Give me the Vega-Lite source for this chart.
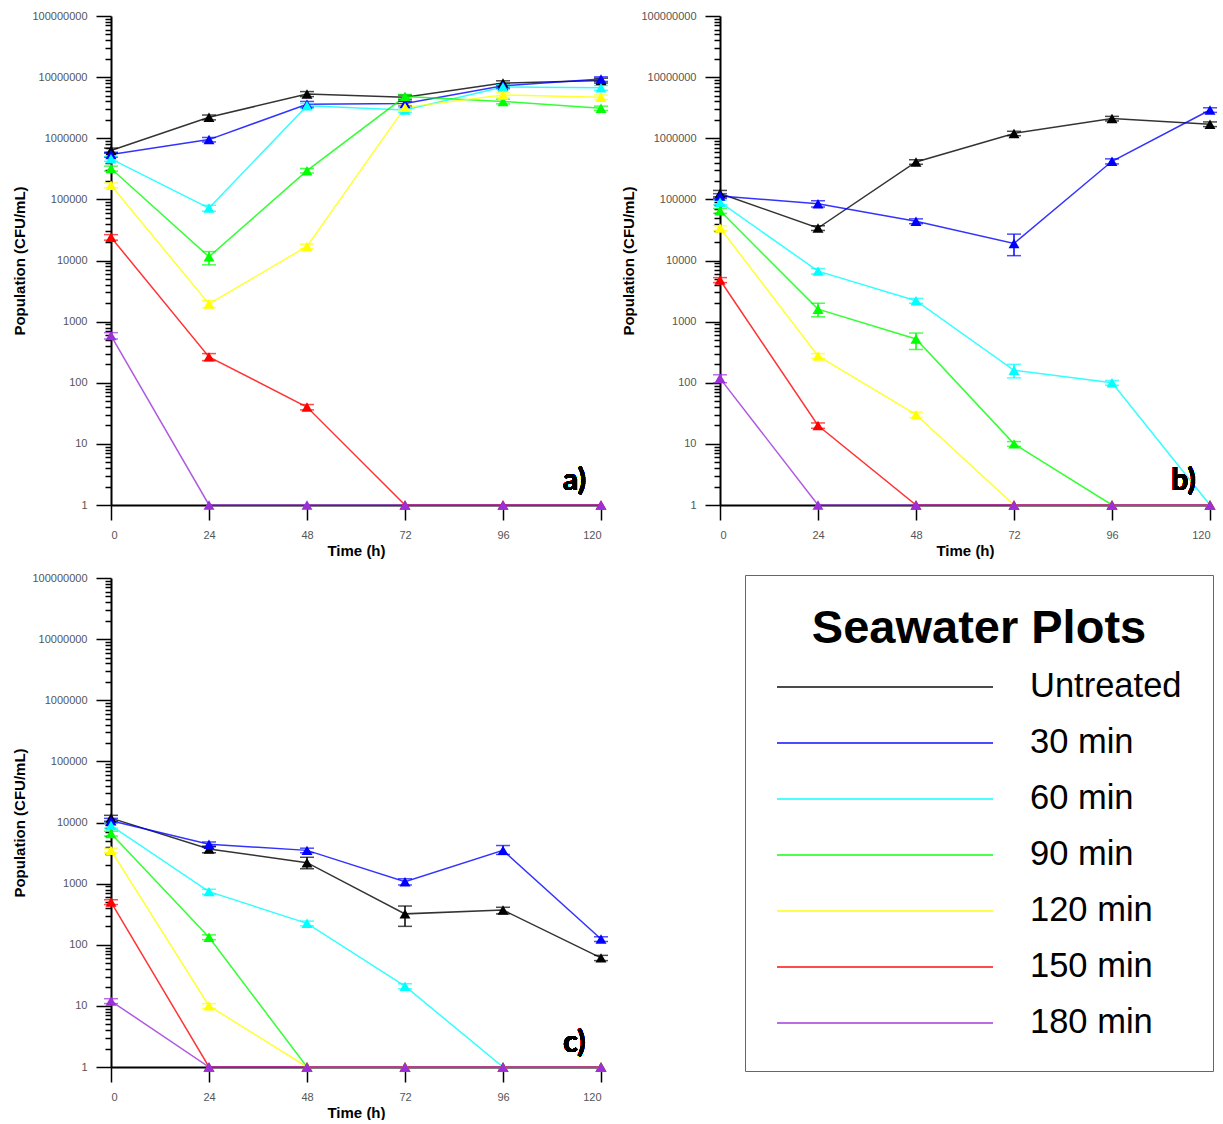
{
  "$schema": "https://vega.github.io/schema/vega-lite/v6.json",
  "padding": {"left": 12, "top": 10, "right": 0, "bottom": 0},
  "background": "white",
  "config": {
    "font": "Liberation Sans",
    "view": {"stroke": null},
    "axis": {"grid": false, "tickColor": "#000", "domainColor": "#000", "labelColor": "#555", "labelFontSize": 11, "labelFont": "Liberation Sans", "titleFont": "Liberation Sans", "titleFontSize": 15, "titleFontWeight": "bold", "titleColor": "#000", "tickWidth": 1.5, "domainWidth": 2},
    "axisX": {"tickSize": 15, "labelPadding": 9, "titlePadding": 3},
    "axisY": {"tickSize": 15, "labelPadding": 9, "titlePadding": 4}
  },
  "data": {"values": [
    {"p":"a","s":"Untreated","t":0,"y":630000,"lo":570000,"hi":690000},
    {"p":"a","s":"Untreated","t":24,"y":2200000,"lo":2000000,"hi":2400000},
    {"p":"a","s":"Untreated","t":48,"y":5300000,"lo":4800000,"hi":5800000},
    {"p":"a","s":"Untreated","t":72,"y":4700000,"lo":4300000,"hi":5100000},
    {"p":"a","s":"Untreated","t":96,"y":8000000,"lo":7300000,"hi":8700000},
    {"p":"a","s":"Untreated","t":120,"y":8800000,"lo":8000000,"hi":9600000},
    {"p":"a","s":"30 min","t":0,"y":540000,"lo":490000,"hi":590000},
    {"p":"a","s":"30 min","t":24,"y":950000,"lo":870000,"hi":1030000},
    {"p":"a","s":"30 min","t":48,"y":3600000,"lo":3200000,"hi":4000000},
    {"p":"a","s":"30 min","t":72,"y":3700000,"lo":3400000,"hi":4000000},
    {"p":"a","s":"30 min","t":96,"y":7200000,"lo":6600000,"hi":7800000},
    {"p":"a","s":"30 min","t":120,"y":9300000,"lo":8500000,"hi":10100000},
    {"p":"a","s":"60 min","t":0,"y":460000,"lo":420000,"hi":500000},
    {"p":"a","s":"60 min","t":24,"y":72000,"lo":64000,"hi":80000},
    {"p":"a","s":"60 min","t":48,"y":3400000,"lo":3100000,"hi":3700000},
    {"p":"a","s":"60 min","t":72,"y":2900000,"lo":2650000,"hi":3150000},
    {"p":"a","s":"60 min","t":96,"y":6900000,"lo":6300000,"hi":7500000},
    {"p":"a","s":"60 min","t":120,"y":6700000,"lo":6100000,"hi":7300000},
    {"p":"a","s":"90 min","t":0,"y":320000,"lo":290000,"hi":350000},
    {"p":"a","s":"90 min","t":24,"y":11500,"lo":8500,"hi":14000},
    {"p":"a","s":"90 min","t":48,"y":295000,"lo":270000,"hi":320000},
    {"p":"a","s":"90 min","t":72,"y":4800000,"lo":4400000,"hi":5200000},
    {"p":"a","s":"90 min","t":96,"y":4000000,"lo":3650000,"hi":4350000},
    {"p":"a","s":"90 min","t":120,"y":3100000,"lo":2850000,"hi":3350000},
    {"p":"a","s":"120 min","t":0,"y":170000,"lo":155000,"hi":185000},
    {"p":"a","s":"120 min","t":24,"y":1950,"lo":1700,"hi":2200},
    {"p":"a","s":"120 min","t":48,"y":17000,"lo":15500,"hi":18500},
    {"p":"a","s":"120 min","t":72,"y":3200000,"lo":2900000,"hi":3500000},
    {"p":"a","s":"120 min","t":96,"y":5100000,"lo":4650000,"hi":5550000},
    {"p":"a","s":"120 min","t":120,"y":4700000,"lo":4300000,"hi":5100000},
    {"p":"a","s":"150 min","t":0,"y":24000,"lo":21500,"hi":26500},
    {"p":"a","s":"150 min","t":24,"y":265,"lo":230,"hi":300},
    {"p":"a","s":"150 min","t":48,"y":40,"lo":36,"hi":44},
    {"p":"a","s":"150 min","t":72,"y":1},
    {"p":"a","s":"150 min","t":96,"y":1},
    {"p":"a","s":"150 min","t":120,"y":1},
    {"p":"a","s":"180 min","t":0,"y":590,"lo":520,"hi":660},
    {"p":"a","s":"180 min","t":24,"y":1},
    {"p":"a","s":"180 min","t":48,"y":1},
    {"p":"a","s":"180 min","t":72,"y":1},
    {"p":"a","s":"180 min","t":96,"y":1},
    {"p":"a","s":"180 min","t":120,"y":1},

    {"p":"b","s":"Untreated","t":0,"y":125000,"lo":110000,"hi":140000},
    {"p":"b","s":"Untreated","t":24,"y":34000,"lo":31000,"hi":37000},
    {"p":"b","s":"Untreated","t":48,"y":410000,"lo":375000,"hi":445000},
    {"p":"b","s":"Untreated","t":72,"y":1200000,"lo":1100000,"hi":1300000},
    {"p":"b","s":"Untreated","t":96,"y":2100000,"lo":1920000,"hi":2280000},
    {"p":"b","s":"Untreated","t":120,"y":1700000,"lo":1550000,"hi":1850000},
    {"p":"b","s":"30 min","t":0,"y":114000,"lo":104000,"hi":124000},
    {"p":"b","s":"30 min","t":24,"y":85000,"lo":75000,"hi":95000},
    {"p":"b","s":"30 min","t":48,"y":44000,"lo":40000,"hi":48000},
    {"p":"b","s":"30 min","t":72,"y":19000,"lo":12000,"hi":27000},
    {"p":"b","s":"30 min","t":96,"y":420000,"lo":380000,"hi":460000},
    {"p":"b","s":"30 min","t":120,"y":2900000,"lo":2650000,"hi":3150000},
    {"p":"b","s":"60 min","t":0,"y":90000,"lo":82000,"hi":98000},
    {"p":"b","s":"60 min","t":24,"y":6700,"lo":6000,"hi":7400},
    {"p":"b","s":"60 min","t":48,"y":2200,"lo":2000,"hi":2400},
    {"p":"b","s":"60 min","t":72,"y":160,"lo":120,"hi":200},
    {"p":"b","s":"60 min","t":96,"y":100,"lo":91,"hi":109},
    {"p":"b","s":"60 min","t":120,"y":1},
    {"p":"b","s":"90 min","t":0,"y":65000,"lo":59000,"hi":71000},
    {"p":"b","s":"90 min","t":24,"y":1600,"lo":1200,"hi":2000},
    {"p":"b","s":"90 min","t":48,"y":520,"lo":350,"hi":650},
    {"p":"b","s":"90 min","t":72,"y":10,"lo":9.1,"hi":10.9},
    {"p":"b","s":"90 min","t":96,"y":1},
    {"p":"b","s":"90 min","t":120,"y":1},
    {"p":"b","s":"120 min","t":0,"y":34000,"lo":31000,"hi":37000},
    {"p":"b","s":"120 min","t":24,"y":275,"lo":250,"hi":300},
    {"p":"b","s":"120 min","t":48,"y":30,"lo":27,"hi":33},
    {"p":"b","s":"120 min","t":72,"y":1},
    {"p":"b","s":"120 min","t":96,"y":1},
    {"p":"b","s":"120 min","t":120,"y":1},
    {"p":"b","s":"150 min","t":0,"y":4800,"lo":4350,"hi":5250},
    {"p":"b","s":"150 min","t":24,"y":20,"lo":18,"hi":22},
    {"p":"b","s":"150 min","t":48,"y":1},
    {"p":"b","s":"150 min","t":72,"y":1},
    {"p":"b","s":"150 min","t":96,"y":1},
    {"p":"b","s":"150 min","t":120,"y":1},
    {"p":"b","s":"180 min","t":0,"y":118,"lo":100,"hi":135},
    {"p":"b","s":"180 min","t":24,"y":1},
    {"p":"b","s":"180 min","t":48,"y":1},
    {"p":"b","s":"180 min","t":72,"y":1},
    {"p":"b","s":"180 min","t":96,"y":1},
    {"p":"b","s":"180 min","t":120,"y":1},

    {"p":"c","s":"Untreated","t":0,"y":11800,"lo":10500,"hi":13100},
    {"p":"c","s":"Untreated","t":24,"y":3700,"lo":3200,"hi":4100},
    {"p":"c","s":"Untreated","t":48,"y":2200,"lo":1750,"hi":2700},
    {"p":"c","s":"Untreated","t":72,"y":320,"lo":200,"hi":430},
    {"p":"c","s":"Untreated","t":96,"y":370,"lo":320,"hi":410},
    {"p":"c","s":"Untreated","t":120,"y":61,"lo":55,"hi":67},
    {"p":"c","s":"30 min","t":0,"y":10700,"lo":9700,"hi":11700},
    {"p":"c","s":"30 min","t":24,"y":4400,"lo":4000,"hi":4800},
    {"p":"c","s":"30 min","t":48,"y":3500,"lo":3200,"hi":3800},
    {"p":"c","s":"30 min","t":72,"y":1070,"lo":950,"hi":1200},
    {"p":"c","s":"30 min","t":96,"y":3500,"lo":3000,"hi":4200},
    {"p":"c","s":"30 min","t":120,"y":124,"lo":113,"hi":135},
    {"p":"c","s":"60 min","t":0,"y":8900,"lo":8100,"hi":9700},
    {"p":"c","s":"60 min","t":24,"y":740,"lo":670,"hi":810},
    {"p":"c","s":"60 min","t":48,"y":224,"lo":204,"hi":244},
    {"p":"c","s":"60 min","t":72,"y":21,"lo":19,"hi":23},
    {"p":"c","s":"60 min","t":96,"y":1},
    {"p":"c","s":"60 min","t":120,"y":1},
    {"p":"c","s":"90 min","t":0,"y":6600,"lo":6000,"hi":7200},
    {"p":"c","s":"90 min","t":24,"y":133,"lo":121,"hi":145},
    {"p":"c","s":"90 min","t":48,"y":1},
    {"p":"c","s":"90 min","t":72,"y":1},
    {"p":"c","s":"90 min","t":96,"y":1},
    {"p":"c","s":"90 min","t":120,"y":1},
    {"p":"c","s":"120 min","t":0,"y":3500,"lo":3200,"hi":3800},
    {"p":"c","s":"120 min","t":24,"y":10,"lo":9.1,"hi":10.9},
    {"p":"c","s":"120 min","t":48,"y":1},
    {"p":"c","s":"120 min","t":72,"y":1},
    {"p":"c","s":"120 min","t":96,"y":1},
    {"p":"c","s":"120 min","t":120,"y":1},
    {"p":"c","s":"150 min","t":0,"y":500,"lo":455,"hi":545},
    {"p":"c","s":"150 min","t":24,"y":1},
    {"p":"c","s":"150 min","t":48,"y":1},
    {"p":"c","s":"150 min","t":72,"y":1},
    {"p":"c","s":"150 min","t":96,"y":1},
    {"p":"c","s":"150 min","t":120,"y":1},
    {"p":"c","s":"180 min","t":0,"y":12,"lo":10.9,"hi":13.1},
    {"p":"c","s":"180 min","t":24,"y":1},
    {"p":"c","s":"180 min","t":48,"y":1},
    {"p":"c","s":"180 min","t":72,"y":1},
    {"p":"c","s":"180 min","t":96,"y":1},
    {"p":"c","s":"180 min","t":120,"y":1}
  ]},
  "resolve": {"scale": {"color": "shared"}, "legend": {"color": "shared"}},
  "bounds": "flush",
  "columns": 2,
  "spacing": {"row": 73, "column": 119},
  "concat": [
    {
      "width": 490, "height": 489,
      "transform": [{"filter": "datum.p === 'a'"}],
      "resolve": {"axis": {"y": "independent"}},
      "layer": [
        {"mark": {"type": "line", "strokeWidth": 1.5, "opacity": 0.8},
         "encoding": {
           "x": {"field": "t", "type": "quantitative", "scale": {"domain": [0, 120], "nice": false}, "axis": {"values": [0, 24, 48, 72, 96, 120], "format": "d"}, "title": "Time (h)"},
           "y": {"field": "y", "type": "quantitative", "scale": {"type": "log", "domain": [1, 100000000], "nice": false}, "axis": {"orient": "left", "values": [1, 10, 100, 1000, 10000, 100000, 1000000, 10000000, 100000000], "format": "d"}, "title": "Population (CFU/mL)"},
           "color": {"field": "s", "type": "nominal",
             "scale": {"domain": ["Untreated", "30 min", "60 min", "90 min", "120 min", "150 min", "180 min"], "range": ["#000000", "#0000ff", "#00ffff", "#00ff00", "#ffff00", "#ff0000", "#9b30d9"]},
             "legend": {"orient": "none", "legendX": 634, "legendY": 559, "direction": "vertical", "title": "Seawater Plots", "titleFontSize": 47, "titleFontWeight": "bold", "titleColor": "#000", "titleAnchor": "middle", "titlePadding": 17, "titleLimit": 1000, "labelLimit": 1000, "labelFontSize": 34.5, "labelColor": "#000", "labelOffset": 36, "rowPadding": 21, "clipHeight": 34, "symbolType": "stroke", "symbolSize": 46656, "symbolStrokeWidth": 2, "symbolOpacity": 0.7, "padding": 31, "strokeColor": "#666", "fillColor": "white"}}
         }},
        {"transform": [{"filter": "isValid(datum.lo)"}],
         "mark": {"type": "errorbar", "ticks": {"size": 14}, "thickness": 1.5},
         "encoding": {
           "x": {"field": "t", "type": "quantitative", "title": "Time (h)"},
           "y": {"field": "lo", "type": "quantitative", "axis": null, "title": "Population (CFU/mL)"},
           "y2": {"field": "hi"},
           "color": {"field": "s", "type": "nominal"}
         }},
        {"mark": {"type": "point", "shape": "triangle-up", "filled": true, "size": 120, "opacity": 1},
         "encoding": {
           "x": {"field": "t", "type": "quantitative", "title": "Time (h)"},
           "y": {"field": "y", "type": "quantitative", "axis": {"orient": "left", "labels": false, "domain": false, "title": null, "tickSize": 6, "values": [2,3,4,5,6,7,8,9,20,30,40,50,60,70,80,90,200,300,400,500,600,700,800,900,2000,3000,4000,5000,6000,7000,8000,9000,20000,30000,40000,50000,60000,70000,80000,90000,200000,300000,400000,500000,600000,700000,800000,900000,2000000,3000000,4000000,5000000,6000000,7000000,8000000,9000000,20000000,30000000,40000000,50000000,60000000,70000000,80000000,90000000]}},
           "color": {"field": "s", "type": "nominal"}
         }},
        {"mark": {"type": "text", "font": "Lato", "fontWeight": "bold", "fontSize": 30, "baseline": "middle", "align": "center"},
         "encoding": {
           "x": {"datum": 113.5, "type": "quantitative", "title": "Time (h)"},
           "y": {"datum": 2.5, "type": "quantitative", "axis": null},
           "text": {"value": "a)"}
         }}
      ]
    },
    {
      "width": 490, "height": 489,
      "transform": [{"filter": "datum.p === 'b'"}],
      "resolve": {"axis": {"y": "independent"}},
      "layer": [
        {"mark": {"type": "line", "strokeWidth": 1.5, "opacity": 0.8},
         "encoding": {
           "x": {"field": "t", "type": "quantitative", "scale": {"domain": [0, 120], "nice": false}, "axis": {"values": [0, 24, 48, 72, 96, 120], "format": "d"}, "title": "Time (h)"},
           "y": {"field": "y", "type": "quantitative", "scale": {"type": "log", "domain": [1, 100000000], "nice": false}, "axis": {"orient": "left", "values": [1, 10, 100, 1000, 10000, 100000, 1000000, 10000000, 100000000], "format": "d"}, "title": "Population (CFU/mL)"},
           "color": {"field": "s", "type": "nominal"}
         }},
        {"transform": [{"filter": "isValid(datum.lo)"}],
         "mark": {"type": "errorbar", "ticks": {"size": 14}, "thickness": 1.5},
         "encoding": {
           "x": {"field": "t", "type": "quantitative", "title": "Time (h)"},
           "y": {"field": "lo", "type": "quantitative", "axis": null, "title": "Population (CFU/mL)"},
           "y2": {"field": "hi"},
           "color": {"field": "s", "type": "nominal"}
         }},
        {"mark": {"type": "point", "shape": "triangle-up", "filled": true, "size": 120, "opacity": 1},
         "encoding": {
           "x": {"field": "t", "type": "quantitative", "title": "Time (h)"},
           "y": {"field": "y", "type": "quantitative", "axis": {"orient": "left", "labels": false, "domain": false, "title": null, "tickSize": 6, "values": [2,3,4,5,6,7,8,9,20,30,40,50,60,70,80,90,200,300,400,500,600,700,800,900,2000,3000,4000,5000,6000,7000,8000,9000,20000,30000,40000,50000,60000,70000,80000,90000,200000,300000,400000,500000,600000,700000,800000,900000,2000000,3000000,4000000,5000000,6000000,7000000,8000000,9000000,20000000,30000000,40000000,50000000,60000000,70000000,80000000,90000000]}},
           "color": {"field": "s", "type": "nominal"}
         }},
        {"mark": {"type": "text", "font": "Lato", "fontWeight": "bold", "fontSize": 30, "baseline": "middle", "align": "center"},
         "encoding": {
           "x": {"datum": 113.5, "type": "quantitative", "title": "Time (h)"},
           "y": {"datum": 2.5, "type": "quantitative", "axis": null},
           "text": {"value": "b)"}
         }}
      ]
    },
    {
      "width": 490, "height": 489,
      "transform": [{"filter": "datum.p === 'c'"}],
      "resolve": {"axis": {"y": "independent"}},
      "layer": [
        {"mark": {"type": "line", "strokeWidth": 1.5, "opacity": 0.8},
         "encoding": {
           "x": {"field": "t", "type": "quantitative", "scale": {"domain": [0, 120], "nice": false}, "axis": {"values": [0, 24, 48, 72, 96, 120], "format": "d"}, "title": "Time (h)"},
           "y": {"field": "y", "type": "quantitative", "scale": {"type": "log", "domain": [1, 100000000], "nice": false}, "axis": {"orient": "left", "values": [1, 10, 100, 1000, 10000, 100000, 1000000, 10000000, 100000000], "format": "d"}, "title": "Population (CFU/mL)"},
           "color": {"field": "s", "type": "nominal"}
         }},
        {"transform": [{"filter": "isValid(datum.lo)"}],
         "mark": {"type": "errorbar", "ticks": {"size": 14}, "thickness": 1.5},
         "encoding": {
           "x": {"field": "t", "type": "quantitative", "title": "Time (h)"},
           "y": {"field": "lo", "type": "quantitative", "axis": null, "title": "Population (CFU/mL)"},
           "y2": {"field": "hi"},
           "color": {"field": "s", "type": "nominal"}
         }},
        {"mark": {"type": "point", "shape": "triangle-up", "filled": true, "size": 120, "opacity": 1},
         "encoding": {
           "x": {"field": "t", "type": "quantitative", "title": "Time (h)"},
           "y": {"field": "y", "type": "quantitative", "axis": {"orient": "left", "labels": false, "domain": false, "title": null, "tickSize": 6, "values": [2,3,4,5,6,7,8,9,20,30,40,50,60,70,80,90,200,300,400,500,600,700,800,900,2000,3000,4000,5000,6000,7000,8000,9000,20000,30000,40000,50000,60000,70000,80000,90000,200000,300000,400000,500000,600000,700000,800000,900000,2000000,3000000,4000000,5000000,6000000,7000000,8000000,9000000,20000000,30000000,40000000,50000000,60000000,70000000,80000000,90000000]}},
           "color": {"field": "s", "type": "nominal"}
         }},
        {"mark": {"type": "text", "font": "Lato", "fontWeight": "bold", "fontSize": 30, "baseline": "middle", "align": "center"},
         "encoding": {
           "x": {"datum": 113.5, "type": "quantitative", "title": "Time (h)"},
           "y": {"datum": 2.5, "type": "quantitative", "axis": null},
           "text": {"value": "c)"}
         }}
      ]
    }
  ]
}
